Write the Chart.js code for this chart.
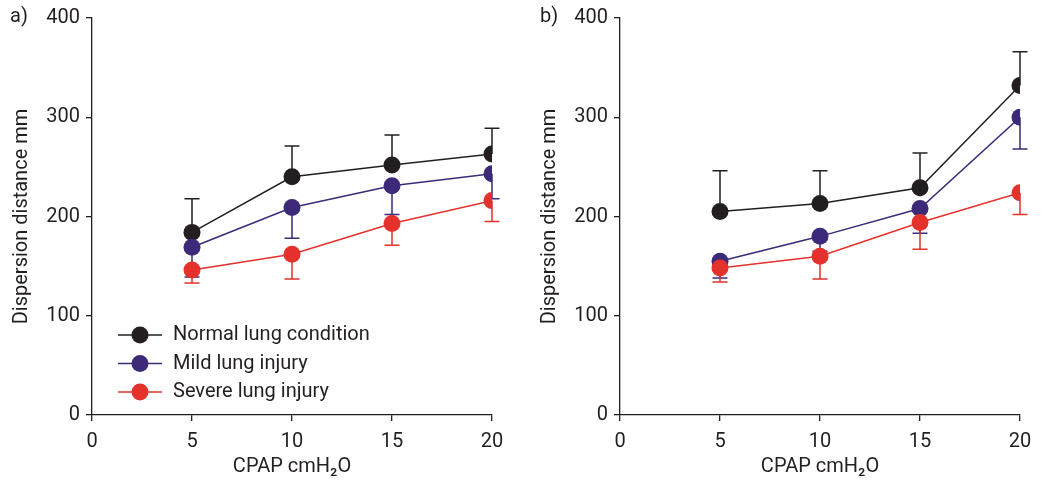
<!DOCTYPE html>
<html>
<head>
<meta charset="utf-8">
<script src="https://cdn.jsdelivr.net/npm/chart.js@4"></script>
<style>
  body { margin: 0; background: #fff; }
  #wrapA { position: absolute; left: 0; top: 0; width: 523px; height: 481px; }
  #wrapB { position: absolute; left: 528px; top: 0; width: 518px; height: 481px; }
</style>
</head>
<body>
<div id="wrapA"><canvas id="chartA"></canvas></div>
<div id="wrapB"><canvas id="chartB"></canvas></div>
<script>
const cpapLevels = [5, 10, 15, 20];
const seriesNames = ['Normal lung condition', 'Mild lung injury', 'Severe lung injury'];
const seriesColors = ['#231f20', '#3c2a78', '#e4312b'];

// panel a
const normalA = [184, 240, 252, 263];
const normalAErr = [218, 271, 282, 289];
const mildA = [169, 209, 231, 243];
const mildAErr = [139, 178, 202, 218];
const severeA = [146, 162, 193, 216];
const severeAErr = [133, 137, 171, 195];

// panel b
const normalB = [205, 213, 229, 332];
const normalBErr = [246, 246, 264, 366];
const mildB = [155, 180, 208, 300];
const mildBErr = [138, 165, 183, 268];
const severeB = [148, 160, 194, 224];
const severeBErr = [134, 137, 167, 202];

const ink = '#231f20';
Chart.defaults.font.family = 'Roboto';
Chart.defaults.font.size = 20;
Chart.defaults.color = ink;

// error bars, drawn under the markers
const errorBars = {
  id: 'errorBars',
  beforeDatasetsDraw(chart) {
    const ctx = chart.ctx;
    const x = chart.scales.x, y = chart.scales.y;
    chart.data.datasets.forEach(ds => {
      ctx.save();
      ctx.strokeStyle = ds.borderColor;
      ctx.lineWidth = 1.5;
      ds.data.forEach((p, i) => {
        const px = x.getPixelForValue(p.x);
        const py = y.getPixelForValue(p.y);
        const pe = y.getPixelForValue(ds.errEnds[i]);
        ctx.beginPath();
        ctx.moveTo(px, py);
        ctx.lineTo(px, pe);
        ctx.moveTo(px - 7.5, pe);
        ctx.lineTo(px + 7.5, pe);
        ctx.stroke();
      });
      ctx.restore();
    });
  }
};

// panel letter + optional legend
const extras = {
  id: 'extras',
  afterDraw(chart, args, opts) {
    const ctx = chart.ctx;
    ctx.save();
    ctx.font = '20px Roboto';
    ctx.fillStyle = ink;
    ctx.textBaseline = 'middle';
    ctx.textAlign = 'left';
    ctx.fillText(opts.letter, opts.letterX, 17);
    if (opts.legend) {
      seriesNames.forEach((name, i) => {
        const ds = chart.data.datasets.find(d => d.label === name);
        const yy = 335 + i * 28.5;
        ctx.strokeStyle = ds.borderColor;
        ctx.lineWidth = 1.5;
        ctx.beginPath();
        ctx.moveTo(118, yy);
        ctx.lineTo(162, yy);
        ctx.stroke();
        ctx.fillStyle = ds.backgroundColor;
        ctx.beginPath();
        ctx.arc(140, yy, 8.5, 0, Math.PI * 2);
        ctx.fill();
        ctx.fillStyle = ink;
        ctx.fillText(name, 173, yy);
      });
    }
    ctx.restore();
  }
};

function makeSet(name, color, vals, errs, order) {
  return {
    label: name,
    data: cpapLevels.map((c, i) => ({ x: c, y: vals[i] })),
    errEnds: errs,
    borderColor: color,
    backgroundColor: color,
    borderWidth: 1.5,
    pointRadius: 8.5,
    pointBorderWidth: 0,
    pointHoverRadius: 8.5,
    tension: 0,
    order: order
  };
}

function makeChart(id, sets, letter, letterX, legend, rightPad) {
  return new Chart(document.getElementById(id), {
    type: 'line',
    data: {
      datasets: [
        makeSet(seriesNames[0], seriesColors[0], sets[0], sets[1], 2),
        makeSet(seriesNames[1], seriesColors[1], sets[2], sets[3], 1),
        makeSet(seriesNames[2], seriesColors[2], sets[4], sets[5], 0)
      ]
    },
    options: {
      responsive: true,
      maintainAspectRatio: false,
      animation: false,
      layout: { padding: { top: 17, left: 0, right: rightPad, bottom: 0 } },
      plugins: {
        legend: { display: false },
        tooltip: { enabled: false },
        extras: { letter: letter, letterX: letterX, legend: legend }
      },
      scales: {
        x: {
          type: 'linear',
          min: 0,
          max: 20,
          ticks: { stepSize: 5, padding: 9, color: ink },
          grid: { drawOnChartArea: false, drawTicks: true, tickLength: 6, color: ink, lineWidth: 1.3 },
          border: { color: ink, width: 1.3 },
          title: { display: true, text: 'CPAP cmH₂O', padding: { top: 0, bottom: 2 }, color: ink },
          afterFit(scale) { scale.height = 66; }
        },
        y: {
          min: 0,
          max: 400,
          ticks: { stepSize: 100, padding: 6, color: ink },
          grid: { drawOnChartArea: false, drawTicks: true, tickLength: 6, color: ink, lineWidth: 1.3 },
          border: { color: ink, width: 1.3 },
          title: { display: true, text: 'Dispersion distance mm', padding: { top: 10, bottom: 0 }, color: ink },
          afterFit(scale) { scale.width = 92; }
        }
      }
    },
    plugins: [errorBars, extras]
  });
}

makeChart('chartA', [normalA, normalAErr, mildA, mildAErr, severeA, severeAErr], 'a)', 10, true, 31);
makeChart('chartB', [normalB, normalBErr, mildB, mildBErr, severeB, severeBErr], 'b)', 12, false, 26);
</script>
</body>
</html>
